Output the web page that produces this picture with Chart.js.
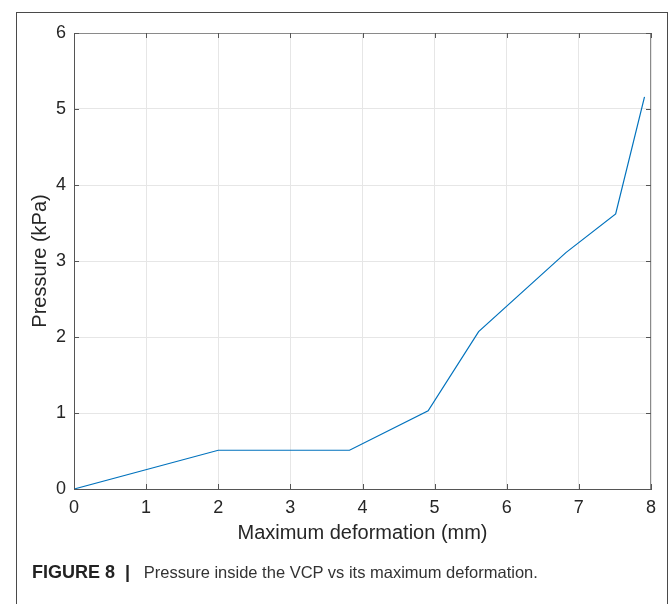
<!DOCTYPE html>
<html>
<head>
<meta charset="utf-8">
<script src="https://cdn.jsdelivr.net/npm/chart.js@4/dist/chart.umd.min.js"></script>
<style>
  html, body { margin: 0; padding: 0; background: #fff; overflow: hidden; }
  body { width: 672px; height: 604px; position: relative; font-family: "Liberation Sans", Arial, sans-serif; }
  #frame { position: absolute; left: 16px; top: 12px; width: 652px; height: 700px; border: 1px solid #4a4a4a; box-sizing: border-box; }
  #chart { position: absolute; left: 0; top: 0; }
  #caption { position: absolute; left: 32px; top: 560px; font-size: 16.5px; line-height: 24px; color: #333; white-space: nowrap; }
  #caption b { font-size: 18px; color: #222; }
</style>
</head>
<body>
<div id="frame"></div>
<canvas id="chart" width="672" height="604"></canvas>
<div id="caption"><b>FIGURE 8 &nbsp;|</b>&nbsp;&nbsp; Pressure inside the VCP vs its maximum deformation.</div>
<script>
  // data
  const deformation = [0, 2, 3.82, 4.91, 5.61, 6.82, 7.51, 7.91];
  const pressure    = [0, 0.51, 0.51, 1.03, 2.07, 3.11, 3.62, 5.16];
  const xTicks = [0, 1, 2, 3, 4, 5, 6, 7, 8];
  const yTicks = [0, 1, 2, 3, 4, 5, 6];

  const points = deformation.map((x, i) => ({ x, y: pressure[i] }));

  // MATLAB style box with inward ticks
  const axisBox = {
    id: 'axisBox',
    afterDraw(chart) {
      const { ctx, chartArea: a, scales: { x, y } } = chart;
      ctx.save();
      ctx.lineWidth = 1;
      ctx.strokeStyle = '#8a8a8a';
      ctx.beginPath();
      ctx.moveTo(a.left, a.top + 0.5); ctx.lineTo(a.right, a.top + 0.5);
      ctx.moveTo(a.right - 0.5, a.top); ctx.lineTo(a.right - 0.5, a.bottom);
      ctx.stroke();
      ctx.strokeStyle = '#555';
      ctx.beginPath();
      const t = 5;
      for (const v of xTicks) {
        const px = Math.round(x.getPixelForValue(v)) + 0.5;
        ctx.moveTo(px, a.bottom); ctx.lineTo(px, a.bottom - t);
        ctx.moveTo(px, a.top); ctx.lineTo(px, a.top + t);
      }
      for (const v of yTicks) {
        const py = Math.round(y.getPixelForValue(v)) + 0.5;
        ctx.moveTo(a.left, py); ctx.lineTo(a.left + t, py);
        ctx.moveTo(a.right, py); ctx.lineTo(a.right - t, py);
      }
      ctx.stroke();
      ctx.restore();
    }
  };

  const tickFont = { family: '"Liberation Sans", Arial, sans-serif', size: 18 };
  const titleFont = { family: '"Liberation Sans", Arial, sans-serif', size: 20 };

  new Chart(document.getElementById('chart'), {
    type: 'scatter',
    data: {
      datasets: [{
        data: points,
        showLine: true,
        borderColor: '#0072BD',
        borderWidth: 1.2,
        pointRadius: 0,
        tension: 0
      }]
    },
    options: {
      responsive: false,
      animation: false,
      layout: { padding: { left: 24, top: 33, right: 21, bottom: 55 } },
      plugins: { legend: { display: false }, tooltip: { enabled: false } },
      scales: {
        x: {
          type: 'linear', min: 0, max: 8,
          afterFit: (s) => { s.height = 60; },
          afterBuildTicks: (s) => { s.ticks = xTicks.map(v => ({ value: v })); },
          ticks: { font: tickFont, color: '#262626', padding: 8, maxRotation: 0 },
          grid: { color: '#e6e6e6', drawTicks: false },
          border: { color: '#555' },
          title: { display: true, text: 'Maximum deformation (mm)', font: titleFont, color: '#262626', padding: { top: 0, bottom: 4 } }
        },
        y: {
          type: 'linear', min: 0, max: 6,
          afterFit: (s) => { s.width = 50; },
          afterBuildTicks: (s) => { s.ticks = yTicks.map(v => ({ value: v })); },
          ticks: { font: tickFont, color: '#262626', padding: 8 },
          grid: { color: '#e6e6e6', drawTicks: false },
          border: { color: '#555' },
          title: { display: true, text: 'Pressure (kPa)', font: titleFont, color: '#262626', padding: { top: 4, bottom: 0 } }
        }
      }
    },
    plugins: [axisBox]
  });
</script>
</body>
</html>
